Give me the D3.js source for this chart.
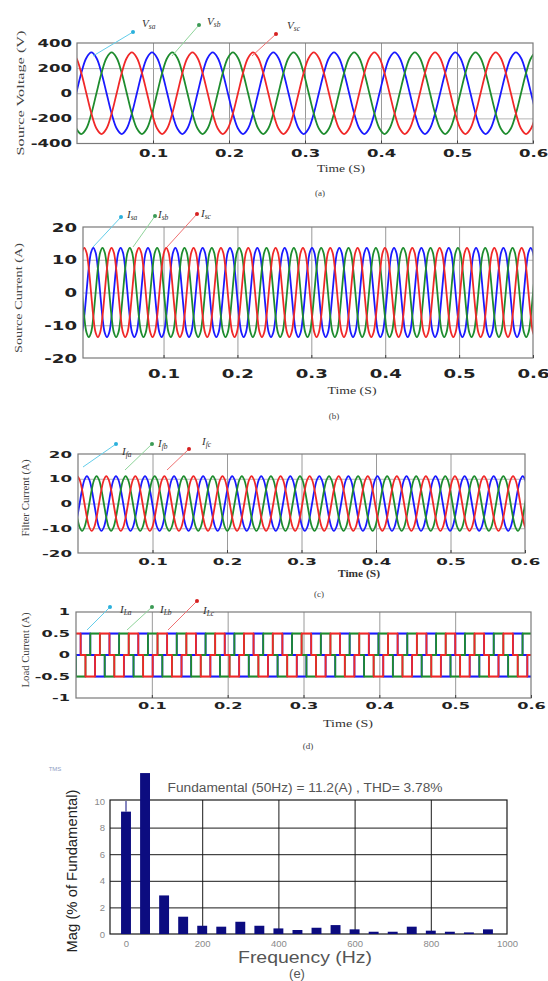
<!DOCTYPE html>
<html>
<head>
<meta charset="utf-8">
<script src="https://cdn.jsdelivr.net/npm/d3@7"></script>
<style>
  body { margin: 0; background: #fff; }
  svg { display: block; }
</style>
</head>
<body>
<div id="chart"></div>
<script>
// ---- values ----
const timeTicks = [0.1, 0.2, 0.3, 0.4, 0.5, 0.6];
const phaseColors = ['#1a1aff', '#1e8c2e', '#f02828'];   // blue, green, red traces
const leaderColors = ['#63cdea', '#8fd49a', '#ef7272'];
const dotColors = ['#2bb0dc', '#3c9a55', '#d62020'];

// (a) source voltage: one period read every 30 deg, period (s), rising zero crossing of each phase
const voltageTicks = [-400, -200, 0, 200, 400];
const voltageCycle = [0, 162, 281, 325, 281, 162, 0, -162, -281, -325, -281, -162];
const voltagePeriod = 0.0798;
const voltageStart = [-0.0010, 0.0256, 0.0522];
const voltageNames = ['sa', 'sb', 'sc'];

// (b) source current
const sourceTicks = [-20, -10, 0, 10, 20];
const sourceCycle = [0, 7.4, 12.2, 13.6, 12.2, 7.4, 0, -7.4, -12.2, -13.6, -12.2, -7.4];
const sourcePeriod = 0.037;
const sourceStart = [-0.0043, 0.0081, 0.0204];
const sourceNames = ['sa', 'sb', 'sc'];

// (c) filter current
const filterTicks = [-20, -10, 0, 10, 20];
const filterCycle = [0, 5.6, 9.6, 11.1, 9.6, 5.6, 0, -5.6, -9.6, -11.1, -9.6, -5.6];
const filterPeriod = 0.039;
const filterStart = [0.0022, 0.0152, 0.0282];
const filterNames = ['fa', 'fb', 'fc'];

// (d) load current, six-pulse steps
const loadTicks = [-1, -0.5, 0, 0.5, 1];
const loadCycle = [0, 0.5, 0.5, 0.5, 0.5, 0, 0, -0.5, -0.5, -0.5, -0.5, 0];
const loadPeriod = 0.038;
const loadStart = [0.0030, 0.0157, 0.0283];
const loadNames = ['La', 'Lb', 'Lc'];

// (e) FFT of source current
const harmonicFreq = [0, 50, 100, 150, 200, 250, 300, 350, 400, 450, 500, 550, 600, 650, 700, 750, 800, 850, 900, 950];
const harmonicMag = [9.2, 12.1, 2.9, 1.3, 0.62, 0.55, 0.92, 0.62, 0.42, 0.3, 0.47, 0.67, 0.35, 0.17, 0.17, 0.55, 0.25, 0.17, 0.12, 0.35];
const freqTicks = [0, 200, 400, 600, 800, 1000];
const magTicks = [0, 2, 4, 6, 8, 10];
const fftTitle = 'Fundamental (50Hz) = 11.2(A) , THD= 3.78%';

const W = 548, H = 981;

const svg = d3.select('#chart')
  .append('svg')
  .attr('width', W)
  .attr('height', H)
  .style('font-family', 'Liberation Sans, Arial, sans-serif');

// stretch a text horizontally (the original figure is squashed vertically)
function stretch(sel, k) {
  sel.each(function () {
    const w = this.getComputedTextLength();
    d3.select(this).attr('textLength', w * k).attr('lengthAdjust', 'spacingAndGlyphs');
  });
}

// repeat one read period over the visible time range
function tile(cycle, period, start, domain) {
  const n = cycle.length;
  const pts = [];
  let k = Math.floor((domain[0] - start) / period) - 1;
  while (start + k * period <= domain[1] + period) {
    cycle.forEach((v, i) => pts.push([start + k * period + i * period / n, v]));
    k++;
  }
  return pts;
}

function wavePanel(p) {
  const x = d3.scaleLinear().domain(p.domain).range([p.left, p.right]);
  const y = d3.scaleLinear().domain([p.yTicks[0], p.yTicks[p.yTicks.length - 1]]).range([p.bottom, p.top]);
  const g = svg.append('g');

  // grid
  g.append('g')
    .attr('transform', `translate(0,${p.bottom})`)
    .call(d3.axisBottom(x).tickValues(timeTicks.slice(0, -1)).tickSize(-(p.bottom - p.top)).tickFormat(''))
    .call(a => a.select('.domain').remove())
    .selectAll('line').attr('stroke', '#9a9a9a').attr('stroke-width', 1);
  g.append('g')
    .attr('transform', `translate(${p.left},0)`)
    .call(d3.axisLeft(y).tickValues(p.yTicks.slice(1, -1)).tickSize(-(p.right - p.left)).tickFormat(''))
    .call(a => a.select('.domain').remove())
    .selectAll('line').attr('stroke', '#b4b4b4').attr('stroke-width', 1);

  // traces
  const id = 'clip' + p.name;
  svg.append('clipPath').attr('id', id)
    .append('rect')
    .attr('x', p.left).attr('y', p.top)
    .attr('width', p.right - p.left).attr('height', p.bottom - p.top);

  const line = d3.line()
    .x(d => x(d[0]))
    .y(d => y(d[1]))
    .curve(p.curve);

  p.starts.forEach((s, i) => {
    g.append('path')
      .datum(tile(p.cycle, p.period, s, p.domain))
      .attr('clip-path', `url(#${id})`)
      .attr('d', line)
      .attr('fill', 'none')
      .attr('stroke', phaseColors[i])
      .attr('stroke-width', 1.8)
      .attr('stroke-linejoin', 'round');
  });

  // box
  g.append('rect')
    .attr('x', p.left).attr('y', p.top)
    .attr('width', p.right - p.left).attr('height', p.bottom - p.top)
    .attr('fill', 'none').attr('stroke', '#7a7a7a').attr('stroke-width', 1.2);

  // tick labels
  const xAxis = g.append('g')
    .attr('transform', `translate(0,${p.bottom})`)
    .call(d3.axisBottom(x).tickValues(timeTicks).tickSize(3).tickFormat(d3.format('.1f')));
  xAxis.select('.domain').remove();
  xAxis.selectAll('line').attr('stroke', '#444').attr('y2', -3);
  xAxis.selectAll('text')
    .attr('y', p.xLabelBase - p.bottom).attr('dy', 0)
    .style('font-family', 'DejaVu Sans')
    .style('font-weight', 'bold')
    .style('font-size', p.tickFont + 'px')
    .attr('fill', '#222')
    .call(stretch, p.tickStretch);

  const yAxis = g.append('g')
    .attr('transform', `translate(${p.left},0)`)
    .call(d3.axisLeft(y).tickValues(p.yTicks).tickSize(0).tickPadding(p.yPad).tickFormat(d => String(d)));
  yAxis.select('.domain').remove();
  yAxis.selectAll('text')
    .style('font-family', 'DejaVu Sans')
    .style('font-weight', 'bold')
    .style('font-size', p.tickFont + 'px')
    .attr('fill', '#222')
    .call(stretch, p.tickStretch);

  // axis titles and caption
  g.append('text')
    .attr('transform', `translate(${p.yTitleX},${p.yTitleY}) rotate(-90)`)
    .attr('text-anchor', 'middle')
    .attr('dy', '0.35em')
    .style('font-family', 'Liberation Serif, serif')
    .style('font-size', '10px')
    .attr('fill', '#444')
    .attr('textLength', p.yTitleLen)
    .attr('lengthAdjust', 'spacingAndGlyphs')
    .text(p.yTitle);

  g.append('text')
    .attr('x', p.xTitleX).attr('y', p.xTitleY)
    .attr('text-anchor', 'middle')
    .style('font-family', 'Liberation Serif, serif')
    .style('font-size', '10px')
    .style('font-weight', p.xTitleBold ? 'bold' : 'normal')
    .attr('fill', '#333')
    .attr('textLength', p.xTitleLen)
    .attr('lengthAdjust', 'spacingAndGlyphs')
    .text('Time (S)');

  g.append('text')
    .attr('x', p.capX).attr('y', p.capY)
    .attr('text-anchor', 'middle')
    .style('font-family', 'Liberation Serif, serif')
    .style('font-size', '9px')
    .attr('fill', '#444')
    .text(p.cap);

  // phase labels with leader lines
  p.legend.forEach((l, i) => {
    g.append('line')
      .attr('x1', l.end[0]).attr('y1', l.end[1])
      .attr('x2', l.dot[0]).attr('y2', l.dot[1])
      .attr('stroke', leaderColors[i]).attr('stroke-width', 1);
    g.append('circle')
      .attr('cx', l.dot[0]).attr('cy', l.dot[1]).attr('r', 2)
      .attr('fill', dotColors[i]);
    const t = g.append('text')
      .attr('x', l.text[0]).attr('y', l.text[1])
      .style('font-family', 'Liberation Serif, serif')
      .style('font-style', 'italic')
      .style('font-size', '11px')
      .attr('fill', '#333');
    t.append('tspan').text(p.symbol);
    t.append('tspan').attr('dy', 2).style('font-size', '7.5px').text(p.names[i]);
  });
}

wavePanel({
  name: 'a', left: 77, right: 533, top: 43, bottom: 143.5, domain: [0, 0.6],
  yTicks: voltageTicks, cycle: voltageCycle, period: voltagePeriod, starts: voltageStart,
  curve: d3.curveCatmullRom, tickFont: 10, tickStretch: 1.65, yPad: 5, xLabelBase: 157,
  yTitle: 'Source Voltage (V)', yTitleX: 20, yTitleY: 93, yTitleLen: 125,
  xTitleX: 341, xTitleY: 172, xTitleLen: 48, cap: '(a)', capX: 320, capY: 196,
  symbol: 'V', names: voltageNames,
  legend: [
    { dot: [133, 32], end: [93, 56], text: [142, 27] },
    { dot: [199, 25], end: [172, 56], text: [207, 25] },
    { dot: [276, 34], end: [252, 56], text: [287, 29] }
  ]
});

wavePanel({
  name: 'b', left: 83, right: 533, top: 227, bottom: 358, domain: [-0.009, 0.6],
  yTicks: sourceTicks, cycle: sourceCycle, period: sourcePeriod, starts: sourceStart,
  curve: d3.curveCatmullRom, tickFont: 12.5, tickStretch: 1.45, yPad: 6, xLabelBase: 378,
  yTitle: 'Source Current (A)', yTitleX: 18, yTitleY: 298, yTitleLen: 110,
  xTitleX: 352, xTitleY: 394, xTitleLen: 49, cap: '(b)', capX: 334, capY: 419,
  symbol: 'I', names: sourceNames,
  legend: [
    { dot: [121, 217], end: [93, 247], text: [127, 218] },
    { dot: [155, 216], end: [133, 247], text: [158, 218] },
    { dot: [197, 214], end: [167, 247], text: [201, 217] }
  ]
});

wavePanel({
  name: 'c', left: 78, right: 525, top: 454, bottom: 553, domain: [0, 0.6],
  yTicks: filterTicks, cycle: filterCycle, period: filterPeriod, starts: filterStart,
  curve: d3.curveCatmullRom, tickFont: 9.5, tickStretch: 1.75, yPad: 6, xLabelBase: 565,
  yTitle: 'Filter Current (A)', yTitleX: 25, yTitleY: 498, yTitleLen: 77,
  xTitleX: 359, xTitleY: 577, xTitleLen: 42, xTitleBold: true, cap: '(c)', capX: 319, capY: 597,
  symbol: 'I', names: filterNames,
  legend: [
    { dot: [116, 444], end: [83, 467], text: [122, 455] },
    { dot: [152, 444], end: [125, 470], text: [158, 447] },
    { dot: [189, 449], end: [167, 470], text: [202, 445] }
  ]
});

wavePanel({
  name: 'd', left: 76, right: 531, top: 612, bottom: 698, domain: [0, 0.6],
  yTicks: loadTicks, cycle: loadCycle, period: loadPeriod, starts: loadStart,
  curve: d3.curveStepAfter, tickFont: 8.5, tickStretch: 1.9, yPad: 6, xLabelBase: 709,
  yTitle: 'Load Current (A)', yTitleX: 25, yTitleY: 650, yTitleLen: 75,
  xTitleX: 348, xTitleY: 727, xTitleLen: 50, cap: '(d)', capX: 308, capY: 749,
  symbol: 'I', names: loadNames,
  legend: [
    { dot: [110, 607], end: [87, 630], text: [120, 613] },
    { dot: [152, 607], end: [127, 630], text: [160, 613] },
    { dot: [197, 601], end: [168, 630], text: [203, 614] }
  ]
});

// ---- (e) spectrum ----
const eLeft = 110, eRight = 507, eTop = 800, eBottom = 934;
const fx = d3.scaleLinear().domain([-42, 1000]).range([eLeft, eRight]);
const fy = d3.scaleLinear().domain([0, 10]).range([eBottom, 801]);
const barHz = 26;

const ge = svg.append('g');

ge.append('g')
  .attr('transform', `translate(0,${eBottom})`)
  .call(d3.axisBottom(fx).tickValues(freqTicks.slice(1, -1)).tickSize(-(eBottom - eTop)).tickFormat(''))
  .call(a => a.select('.domain').remove())
  .selectAll('line').attr('stroke', '#1a1a1a');
ge.append('g')
  .attr('transform', `translate(${eLeft},0)`)
  .call(d3.axisLeft(fy).tickValues(magTicks.slice(1, -1)).tickSize(-(eRight - eLeft)).tickFormat(''))
  .call(a => a.select('.domain').remove())
  .selectAll('line').attr('stroke', '#1a1a1a');

ge.append('rect')
  .attr('x', eLeft).attr('y', eTop)
  .attr('width', eRight - eLeft).attr('height', eBottom - eTop)
  .attr('fill', 'none').attr('stroke', '#1a1a1a').attr('stroke-width', 1.2);

// small stem above the dc bar
ge.append('line')
  .attr('x1', fx(0)).attr('x2', fx(0))
  .attr('y1', fy(harmonicMag[0])).attr('y2', fy(10))
  .attr('stroke', '#0c0c80').attr('stroke-width', 1);

ge.selectAll('.bar')
  .data(harmonicFreq)
  .enter().append('rect')
  .attr('class', 'bar')
  .attr('x', (d) => fx(d - barHz / 2))
  .attr('width', fx(barHz) - fx(0))
  .attr('y', (d, i) => fy(harmonicMag[i]))
  .attr('height', (d, i) => fy(0) - fy(harmonicMag[i]))
  .attr('fill', '#0c0c80');

const fxAxis = ge.append('g')
  .attr('transform', `translate(0,${eBottom})`)
  .call(d3.axisBottom(fx).tickValues(freqTicks).tickSize(0).tickFormat(d3.format('d')));
fxAxis.select('.domain').remove();
fxAxis.selectAll('text')
  .attr('y', 13).attr('dy', 0)
  .style('font-size', '9.5px')
  .attr('fill', '#8a8a8a');

const fyAxis = ge.append('g')
  .attr('transform', `translate(${eLeft},0)`)
  .call(d3.axisLeft(fy).tickValues(magTicks).tickSize(0).tickPadding(5).tickFormat(d3.format('d')));
fyAxis.select('.domain').remove();
fyAxis.selectAll('text')
  .style('font-size', '9.5px')
  .attr('fill', '#8a8a8a');

ge.append('text')
  .attr('x', 305).attr('y', 792)
  .attr('text-anchor', 'middle')
  .style('font-size', '12px')
  .attr('fill', '#555')
  .attr('textLength', 275)
  .attr('lengthAdjust', 'spacingAndGlyphs')
  .text(fftTitle);

ge.append('text')
  .attr('x', 55).attr('y', 771)
  .attr('text-anchor', 'middle')
  .style('font-size', '6px')
  .attr('fill', '#8ea0c4')
  .text('TMS');

ge.append('text')
  .attr('transform', 'translate(72,871) rotate(-90)')
  .attr('text-anchor', 'middle')
  .attr('dy', '0.35em')
  .style('font-size', '15px')
  .attr('fill', '#222')
  .attr('textLength', 163)
  .attr('lengthAdjust', 'spacingAndGlyphs')
  .text('Mag (% of Fundamental)');

ge.append('text')
  .attr('x', 305).attr('y', 963)
  .attr('text-anchor', 'middle')
  .style('font-size', '17px')
  .attr('fill', '#555')
  .attr('textLength', 134)
  .attr('lengthAdjust', 'spacingAndGlyphs')
  .text('Frequency (Hz)');

ge.append('text')
  .attr('x', 297).attr('y', 978)
  .attr('text-anchor', 'middle')
  .style('font-size', '13px')
  .attr('fill', '#555')
  .text('(e)');
</script>
</body>
</html>
